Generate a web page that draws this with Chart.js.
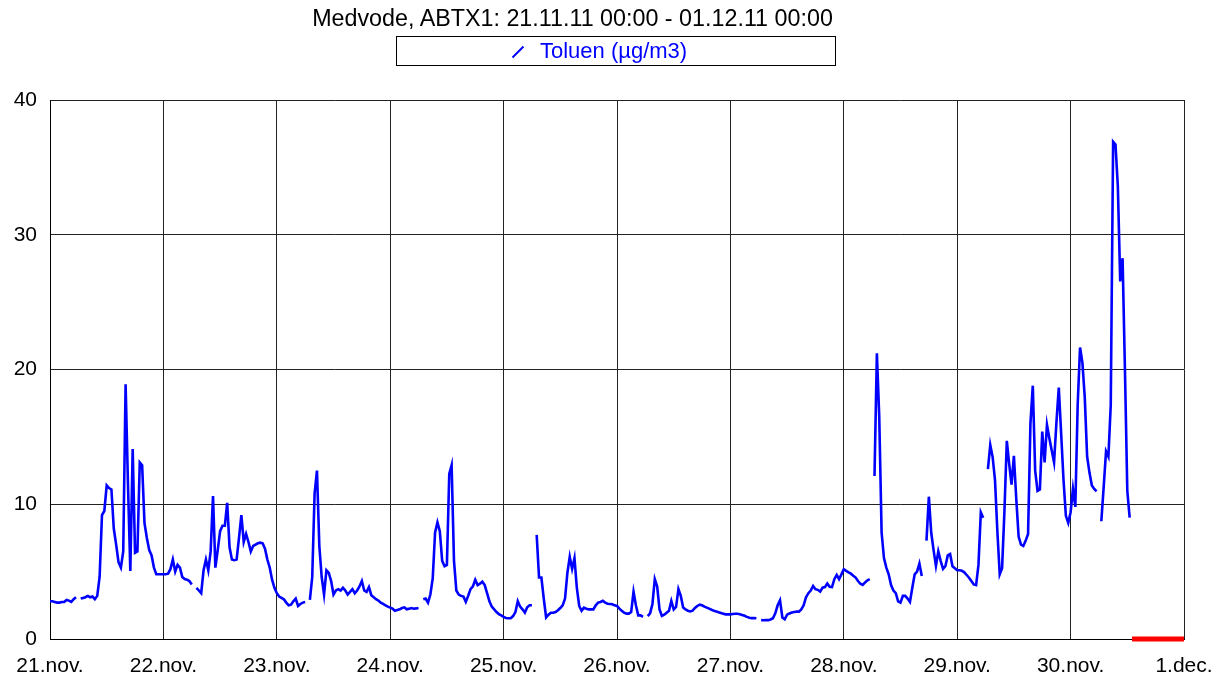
<!DOCTYPE html>
<html>
<head>
<meta charset="utf-8">
<script src="https://cdn.jsdelivr.net/npm/chart.js@4/dist/chart.umd.min.js"></script>
<style>
  body { margin: 0; background: #fff; font-family: "Liberation Sans", Arial, sans-serif; }
  #wrap { position: relative; width: 1215px; height: 678px; }
  #title { position: absolute; left: 0; top: 6px; width: 1145px; text-align: center; font-size: 23.3px; line-height: 24px; color: #000; }
  #legend { position: absolute; left: 396px; top: 36px; width: 440px; height: 30px; box-sizing: border-box; border: 1px solid #000; }
  #legend svg { position: absolute; left: 114px; top: 8px; }
  #legend span { position: absolute; left: 143px; top: 2px; font-size: 22px; line-height: 24px; color: #0000ff; }
</style>
</head>
<body>
<div id="wrap">
  <canvas id="chart" width="1215" height="678"></canvas>
  <div id="title">Medvode, ABTX1: 21.11.11 00:00 - 01.12.11 00:00</div>
  <div id="legend">
    <svg width="14" height="14"><line x1="1.5" y1="12.5" x2="12.5" y2="1.5" stroke="#0000ff" stroke-width="2"/></svg>
    <span>Toluen (µg/m3)</span>
  </div>
</div>
<script>
// --- DATA: half-hour values of Toluen (µg/m3), one array per day ---
const dayLabels = ['21.nov.', '22.nov.', '23.nov.', '24.nov.', '25.nov.', '26.nov.', '27.nov.', '28.nov.', '29.nov.', '30.nov.', '1.dec.'];
const yTicks = [0, 10, 20, 30, 40];

const d21 = [2.8, 2.8, 2.75, 2.7, 2.7, 2.75, 2.75, 2.9, 2.85, 2.75, 2.95, 3.1, null, 3.0, 3.05, 3.1,
  3.2, 3.1, 3.15, 2.95, 3.2, 4.6, 9.2, 9.5, 11.4, 11.2, 11.1, 8.2, 7.0, 5.7, 5.3, 6.5,
  18.9, 11.5, 5.05, 14.1, 6.4, 6.5, 13.1, 12.9, 8.6, 7.5, 6.6, 6.2, 5.3, 4.8, 4.8, 4.8];
const d22 = [4.8, 4.8, 4.85, 5.2, 5.9, 5.0, 5.5, 5.3, 4.6, 4.45, 4.4, 4.3, 4.05, null, 3.8, 3.6,
  3.4, 5.1, 5.9, 5.1, 6.5, 10.6, 5.3, 6.6, 8.0, 8.4, 8.4, 10.1, 6.8, 5.9, 5.85, 5.9,
  7.5, 9.2, 7.2, 7.8, 7.2, 6.5, 6.9, 7.0, 7.1, 7.15, 7.1, 6.7, 5.9, 5.3, 4.4, 3.8];
const d23 = [3.4, 3.15, 3.05, 2.95, 2.7, 2.5, 2.55, 2.8, 3.0, 2.45, 2.6, 2.7, 2.75, null, 2.9, 4.6,
  10.8, 12.5, 6.9, 4.6, 3.3, 5.1, 4.9, 4.3, 3.3, 3.6, 3.7, 3.6, 3.8, 3.6, 3.3, 3.5,
  3.7, 3.4, 3.6, 3.9, 4.3, 3.6, 3.5, 3.85, 3.25, 3.1, 2.95, 2.85, 2.7, 2.6, 2.5, 2.4];
const d24 = [2.33, 2.25, 2.1, 2.15, 2.2, 2.3, 2.35, 2.2, 2.25, 2.3, 2.25, 2.27, 2.3, null, 2.95, 3.0,
  2.7, 3.3, 4.5, 7.9, 8.65, 8.0, 5.8, 5.4, 5.5, 12.25, 12.9, 5.8, 3.6, 3.3, 3.2, 3.15,
  2.75, 3.2, 3.7, 3.9, 4.4, 4.0, 4.1, 4.25, 4.0, 3.4, 2.8, 2.4, 2.2, 2.0, 1.85, 1.75];
const d25 = [1.64, 1.56, 1.54, 1.55, 1.7, 2.0, 2.8, 2.4, 2.2, 1.96, 2.35, 2.5, 2.5, null, 7.73, 4.56,
  4.56, 3.0, 1.6, 1.8, 1.95, 1.95, 2.0, 2.13, 2.3, 2.5, 3.0, 4.9, 6.1, 5.2, 6.0, 3.8,
  2.45, 2.1, 2.33, 2.25, 2.2, 2.2, 2.2, 2.5, 2.7, 2.75, 2.83, 2.7, 2.62, 2.6, 2.58, 2.5];
const d26 = [2.45, 2.25, 2.1, 1.95, 1.88, 1.88, 2.0, 3.5, 2.5, 1.75, 1.75, 1.64, null, 1.7, 1.9, 2.6,
  4.44, 3.9, 2.2, 1.71, 1.8, 1.95, 2.1, 2.83, 2.2, 2.38, 3.7, 3.2, 2.33, 2.2, 2.1, 2.05,
  2.1, 2.3, 2.45, 2.55, 2.5, 2.4, 2.33, 2.25, 2.17, 2.1, 2.05, 1.98, 1.93, 1.88, 1.83, 1.83];
const d27 = [1.83, 1.85, 1.87, 1.87, 1.83, 1.78, 1.72, 1.64, 1.58, 1.55, 1.55, 1.54, null, 1.4, 1.39, 1.4,
  1.4, 1.45, 1.54, 1.9, 2.5, 2.87, 1.6, 1.46, 1.8, 1.9, 1.96, 2.0, 2.03, 2.03, 2.2, 2.5,
  3.1, 3.4, 3.6, 3.94, 3.7, 3.65, 3.52, 3.81, 3.85, 4.11, 3.87, 3.85, 4.44, 4.76, 4.44, 4.8];
const d28 = [5.18, 5.06, 4.95, 4.85, 4.7, 4.56, 4.3, 4.1, 4.01, 4.2, 4.35, 4.44, null, 12.1, 21.2, 16.5,
  7.9, 6.0, 5.3, 4.8, 4.0, 3.6, 3.4, 2.8, 2.7, 3.2, 3.2, 3.0, 2.75, 3.8, 4.8, 5.0,
  5.6, 4.68, null, 7.3, 10.56, 7.9, 6.6, 5.43, 6.5, 5.8, 5.2, 5.4, 6.2, 6.3, 5.4, 5.25];
const d29 = [5.1, 5.1, 5.06, 4.95, 4.75, 4.55, 4.3, 4.05, 4.0, 5.5, 9.4, 9.0, null, 12.6, 14.4, 13.5,
  11.8, 8.0, 4.8, 5.26, 9.5, 14.7, 13.0, 11.45, 13.6, 10.4, 7.6, 7.0, 6.9, 7.3, 7.8, 16.0,
  18.8, 12.5, 11.0, 11.1, 15.4, 13.1, 15.9, 14.9, 14.0, 13.1, 16.06, 18.65, 15.25, 11.8, 9.14, 8.62];
const d30 = [9.41, 11.14, 9.8, 17.38, 21.63, 20.51, 17.91, 13.53, 12.33, 11.4, 11.14, 10.95, null, 8.74, 11.27, 13.93,
  13.53, 17.38, 36.9, 36.7, 33.57, 26.54, 28.26, 20.0, 11.0, 9.0, null, null, null, null, null, null,
  null, null, null, null, null, null, null, null, null, null, null, null, null, null, null, null];

// half-hour indices with no data (drawn red on the zero line)
const noDataFrom = 458;
const noDataTo = 480;

// --- BUILD ---
const toluen = [].concat(d21, d22, d23, d24, d25, d26, d27, d28, d29, d30);
const linePts = toluen.map((v, i) => ({ x: i * 0.5, y: v }));
const missingPts = [];
for (let i = noDataFrom; i <= noDataTo; i++) missingPts.push({ x: i * 0.5, y: 0 });

const FONT = '"Liberation Sans", Arial, sans-serif';

new Chart(document.getElementById('chart'), {
    type: 'line',
    data: {
        datasets: [
            {
                label: 'Toluen (µg/m3)',
                data: linePts,
                borderColor: '#0000ff',
                borderWidth: 2.6,
                pointRadius: 0,
                tension: 0,
                spanGaps: false
            },
            {
                label: 'no data',
                data: missingPts,
                borderColor: '#ff0000',
                borderWidth: 5,
                pointRadius: 0,
                clip: false
            }
        ]
    },
    options: {
        responsive: false,
        animation: false,
        events: [],
        layout: { padding: { top: 100, right: 31, left: 0, bottom: 0 } },
        plugins: { legend: { display: false }, title: { display: false }, tooltip: { enabled: false } },
        scales: {
            x: {
                type: 'linear',
                min: 0,
                max: 240,
                afterFit: s => { s.height = 39; s.paddingLeft = 0; s.paddingRight = 0; },
                afterBuildTicks: s => { s.ticks = dayLabels.map((l, i) => ({ value: i * 24 })); },
                ticks: {
                    autoSkip: false,
                    maxRotation: 0,
                    padding: 15,
                    color: '#000',
                    font: { family: FONT, size: 21 },
                    callback: v => dayLabels[Math.round(v / 24)]
                },
                grid: { color: '#222', lineWidth: 1, drawTicks: false },
                border: { color: '#000', width: 1 }
            },
            y: {
                min: 0,
                max: 40,
                afterFit: s => { s.width = 50; s.paddingTop = 0; s.paddingBottom = 0; },
                afterBuildTicks: s => { s.ticks = yTicks.map(v => ({ value: v })); },
                ticks: {
                    padding: 13,
                    color: '#000',
                    font: { family: FONT, size: 21 }
                },
                grid: { color: '#222', lineWidth: 1, drawTicks: false },
                border: { color: '#000', width: 1 }
            }
        }
    }
});
</script>
</body>
</html>
